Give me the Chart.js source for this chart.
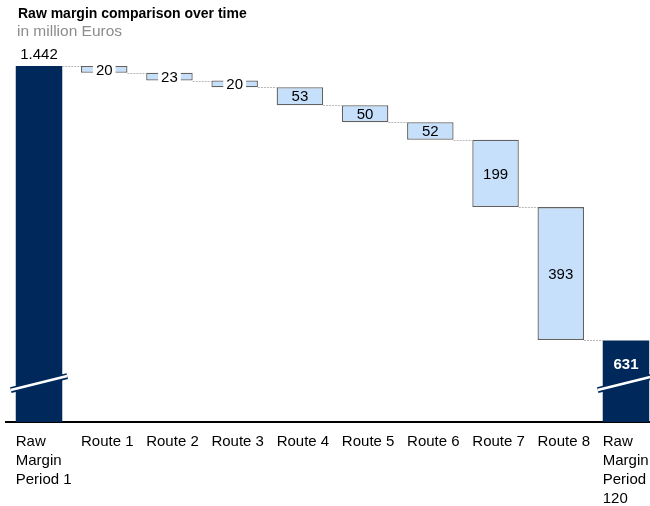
<!DOCTYPE html>
<html>
<head>
<meta charset="utf-8">
<script src="https://cdn.jsdelivr.net/npm/chart.js@4.4.1/dist/chart.umd.min.js"></script>
<style>
    html, body { margin: 0; padding: 0; background: #fff; overflow: hidden; }
    #wrap { position: relative; width: 650px; height: 506px; overflow: hidden; }
    #myChart { position: absolute; left: 0; top: 0; }
    .title { position: absolute; left: 18px; top: 5px; font: bold 14px "Liberation Sans", Arial, sans-serif; color: #000; }
    .sub { position: absolute; left: 17px; top: 22px; font: 15.5px "Liberation Sans", Arial, sans-serif; color: #8c8c8c; }
</style>
</head>
<body>
<div id="wrap">
    <canvas id="myChart" width="662" height="506"></canvas>
    <div class="title">Raw margin comparison over time</div>
    <div class="sub">in million Euros</div>
</div>
<script>
// Chart data
const categories = [
    ["Raw", "Margin", "Period 1"],
    "Route 1", "Route 2", "Route 3", "Route 4",
    "Route 5", "Route 6", "Route 7", "Route 8",
    ["Raw", "Margin", "Period", "120"]
];
const startTotal = 1442;
const routeDrops = [20, 23, 20, 53, 50, 52, 199, 393];
const endTotal = 631;

const navy = "#00285a";
const lightBlue = "#c6dffa";
const fontFamily = '"Liberation Sans", Arial, sans-serif';

// build floating bars for the waterfall
var barData = [startTotal];
var levels = [startTotal];
var running = startTotal;
for (var i = 0; i < routeDrops.length; i++) {
    var next = running - routeDrops[i];
    barData.push([next, running]);
    levels.push(next);
    running = next;
}
barData.push(endTotal);

var valueLabels = [startTotal].concat(routeDrops).concat([endTotal]);

var bgColors = [];
var borderColors = [];
var borderWidths = [];
for (var i = 0; i < barData.length; i++) {
    var isTotal = (i === 0 || i === barData.length - 1);
    bgColors.push(isTotal ? navy : lightBlue);
    borderColors.push(isTotal ? navy : "#626262");
    borderWidths.push(isTotal ? 0 : 1.3);
}

function formatDE(v) {
    return v.toString().replace(/\B(?=(\d{3})+(?!\d))/g, ".");
}

// connectors, break marks and value labels
const waterfallPlugin = {
    id: "waterfall",
    afterDatasetsDraw(chart) {
        const ctx = chart.ctx;
        const meta = chart.getDatasetMeta(0);
        const y = chart.scales.y;
        const last = meta.data.length - 1;

        ctx.save();
        // dotted connectors
        ctx.strokeStyle = "#b8b8b8";
        ctx.lineWidth = 1;
        ctx.setLineDash([2, 1]);
        for (let i = 0; i < last; i++) {
            const a = meta.data[i], b = meta.data[i + 1];
            const py = Math.round(y.getPixelForValue(levels[i])) + 0.5;
            ctx.beginPath();
            ctx.moveTo(a.x + a.width / 2, py);
            ctx.lineTo(b.x - b.width / 2, py);
            ctx.stroke();
        }
        ctx.setLineDash([]);

        // axis break marks on the totals
        const by = y.getPixelForValue(505);
        [0, last].forEach(function (i) {
            const b = meta.data[i];
            const half = b.width / 2 + 5;
            ctx.lineWidth = 6;
            ctx.strokeStyle = navy;
            ctx.beginPath();
            ctx.moveTo(b.x - half, by + 7);
            ctx.lineTo(b.x + half, by - 7);
            ctx.stroke();
            ctx.lineWidth = 2.5;
            ctx.strokeStyle = "#fff";
            ctx.beginPath();
            ctx.moveTo(b.x - half, by + 7);
            ctx.lineTo(b.x + half, by - 7);
            ctx.stroke();
        });

        // value labels
        ctx.textAlign = "center";
        ctx.textBaseline = "middle";
        for (let i = 0; i <= last; i++) {
            const b = meta.data[i];
            const txt = formatDE(valueLabels[i]);
            if (i === 0) {
                ctx.font = "15px " + fontFamily;
                ctx.fillStyle = "#000";
                ctx.fillText(txt, b.x, b.y - 11);
            } else if (i === last) {
                ctx.font = "bold 15px " + fontFamily;
                ctx.fillStyle = "#fff";
                ctx.fillText(txt, b.x, b.y + 24);
            } else {
                ctx.font = "15px " + fontFamily;
                const cy = (b.y + b.base) / 2;
                const h = Math.abs(b.base - b.y);
                if (h < 16) {
                    const w = ctx.measureText(txt).width + 6;
                    ctx.fillStyle = "#fff";
                    ctx.fillRect(b.x - w / 2, cy - 8, w, 16);
                }
                ctx.fillStyle = "#000";
                ctx.fillText(txt, b.x, cy + 1);
            }
        }
        ctx.restore();
    }
};

var config = {
    type: "bar",
    data: {
        labels: categories,
        datasets: [{
            data: barData,
            backgroundColor: bgColors,
            borderColor: borderColors,
            borderWidth: borderWidths,
            borderSkipped: false,
            barPercentage: 0.713,
            categoryPercentage: 1
        }]
    },
    options: {
        responsive: false,
        animation: false,
        layout: { padding: { left: 6.4, right: 3.4, top: 66, bottom: 0 } },
        plugins: {
            legend: { display: false },
            tooltip: { enabled: false }
        },
        scales: {
            x: {
                grid: { display: true, drawOnChartArea: false, drawTicks: false, color: "rgba(0,0,0,0)" },
                border: { display: true, color: "#000", width: 2 },
                ticks: {
                    color: "#000",
                    font: { family: fontFamily, size: 15, lineHeight: 19 / 15 },
                    align: "start",
                    labelOffset: -23.25,
                    padding: 10,
                    autoSkip: false,
                    maxRotation: 0
                },
                afterFit: function (scale) {
                    scale.height = 84;
                    // labels hang off the right edge, don't let them squeeze the plot
                    scale.paddingLeft = 0;
                    scale.paddingRight = 0;
                }
            },
            y: {
                display: false,
                min: 390,
                max: 1442
            }
        }
    },
    plugins: [waterfallPlugin]
};

var myChart = new Chart(document.getElementById("myChart"), config);
</script>
</body>
</html>
